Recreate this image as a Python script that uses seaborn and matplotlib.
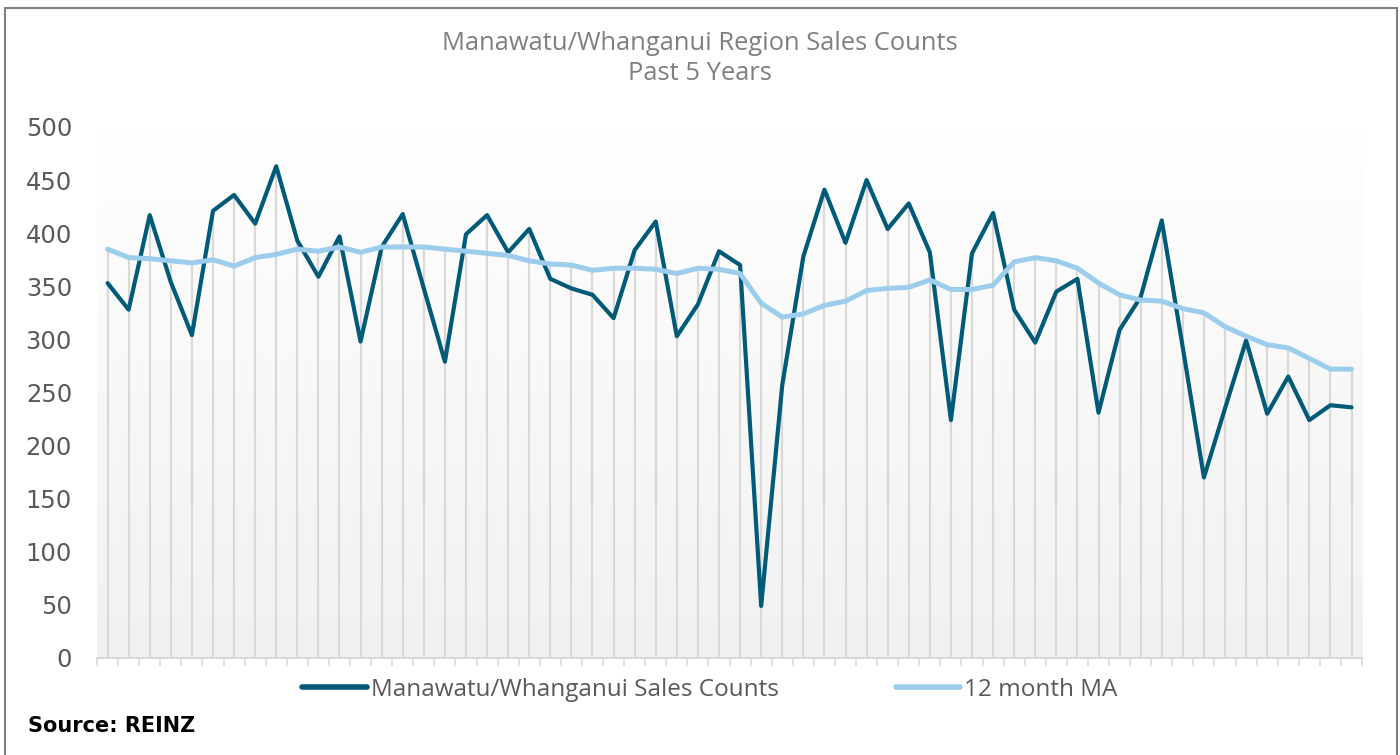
import numpy as np
import pandas as pd
import matplotlib
matplotlib.use("Agg")
import matplotlib.pyplot as plt
from matplotlib.colors import LinearSegmentedColormap
from matplotlib.patches import Rectangle
import seaborn as sns

# Monthly sales counts and their 12 month moving average (past 5 years)
sales_counts = [353, 328, 417, 354, 304, 421, 436, 409, 463, 393,
                359, 397, 298, 387, 418, 348, 279, 399, 417, 382,
                404, 357, 348, 342, 320, 384, 411, 303, 333, 383,
                370, 49, 257, 378, 441, 391, 450, 404, 428, 382,
                224, 381, 419, 328, 297, 345, 357, 231, 309, 340,
                412, 292, 170, 235, 299, 230, 265, 224, 238, 236]
moving_avg = [385, 377, 376, 374, 372, 375, 369, 377, 380, 385,
              383, 387, 382, 387, 387, 387, 385, 383, 381, 379,
              374, 371, 370, 365, 367, 367, 366, 362, 367, 366,
              362, 334, 321, 324, 332, 336, 346, 348, 349, 356,
              347, 347, 351, 373, 377, 374, 367, 353, 342, 337,
              336, 329, 325, 312, 303, 295, 292, 282, 272, 272]
sales_label = "Manawatu/Whanganui Sales Counts"
ma_label = "12 month MA"
y_ticks = [0, 50, 100, 150, 200, 250, 300, 350, 400, 450, 500]
title_lines = ["Manawatu/Whanganui Region Sales Counts", "Past 5 Years"]
source_text = "Source: REINZ"

month = np.arange(len(sales_counts))
df = pd.DataFrame({"month": month, "sales": sales_counts, "ma": moving_avg})

sns.set_theme(style="white")
plt.rcParams["font.family"] = ["Open Sans", "DejaVu Sans"]

DARK = "#005A78"
LIGHT = "#9DCDEC"
GRID = "#D9D9D9"
TEXT = "#595959"

fig = plt.figure(figsize=(14, 7.55), dpi=100)
ax = fig.add_axes([0.0693, 0.1285, 0.9036, 0.7033])

# soft vertical gradient behind the plot area
grad_cmap = LinearSegmentedColormap.from_list("bg", ["#F1F1F1", "#FFFFFF"])
ax.imshow(np.linspace(0, 1, 256).reshape(-1, 1), cmap=grad_cmap, origin="lower",
          extent=[-0.5, len(month) - 0.5, 0, 500], aspect="auto", zorder=0)

# drop lines from the highest point of each month to the axis
top = df[["sales", "ma"]].max(axis=1)
ax.vlines(df["month"], 0, top, color=GRID, lw=1.6, zorder=1)

sns.lineplot(data=df, x="month", y="sales", ax=ax, color=DARK, lw=3.0,
             label=sales_label, zorder=3, solid_capstyle="round")
sns.lineplot(data=df, x="month", y="ma", ax=ax, color=LIGHT, lw=3.6,
             label=ma_label, zorder=4, solid_capstyle="round")

ax.set_xlim(-0.5, len(month) - 0.5)
ax.set_ylim(0, 500)
ax.set_xlabel("")
ax.set_ylabel("")
ax.set_yticks(y_ticks)
ax.set_yticklabels([str(v) for v in y_ticks], fontsize=17.5, color=TEXT,
                   family=["DejaVu Sans"])
ax.tick_params(axis="y", length=0, pad=18)
ax.set_xticks(np.arange(-0.5, len(month), 1.0))
ax.set_xticklabels([])
ax.tick_params(axis="x", direction="out", length=6, width=1.2, color=GRID, bottom=True)
for side in ["left", "right", "top"]:
    ax.spines[side].set_visible(False)
ax.spines["bottom"].set_color(GRID)
ax.spines["bottom"].set_linewidth(1.4)
ax.set_facecolor("white")

leg = ax.legend(loc="center", bbox_to_anchor=(0.4845, -0.06), ncol=2, frameon=False,
                fontsize=17.5, handlelength=2.67, handletextpad=0.16,
                columnspacing=4.8)
for t in leg.get_texts():
    t.set_color(TEXT)
for h in leg.get_lines():
    h.set_linewidth(4)
    h.set_solid_capstyle("round")

fig.text(0.5, 1 - 44 / 755, title_lines[0], ha="center", va="center",
         fontsize=18.4, color="#7F7F7F")
fig.text(0.5, 1 - 73 / 755, title_lines[1], ha="center", va="center",
         fontsize=18.4, color="#7F7F7F")
fig.text(28 / 1400, 1 - 726 / 755, source_text, ha="left", va="center",
         fontsize=15, fontweight="bold", color="black", family=["DejaVu Sans"])

# outer chart border
fig.patches.append(Rectangle((5 / 1400, -0.05), 1392 / 1400, 1 - 8 / 755 + 0.05,
                             transform=fig.transFigure, fill=False,
                             edgecolor="#7F7F7F", lw=1.5))

fig.savefig("out.png", dpi=100)
